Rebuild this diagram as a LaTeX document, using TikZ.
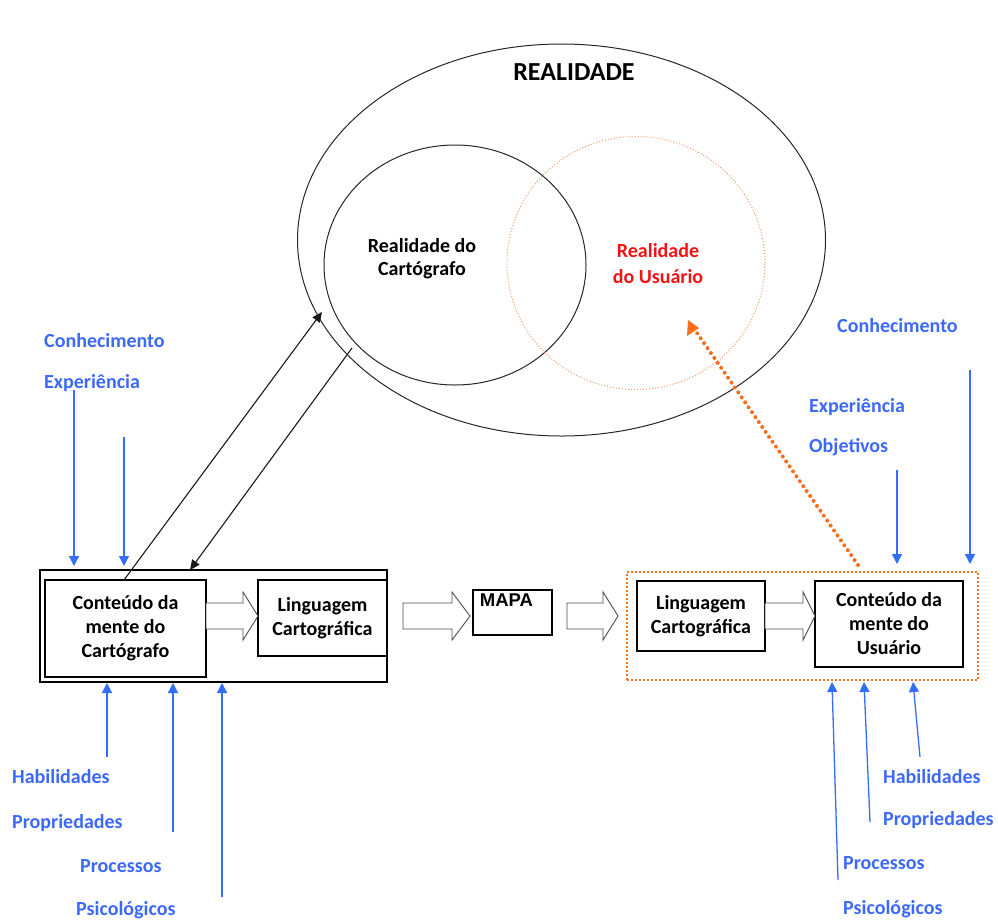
\documentclass[tikz,border=0pt]{standalone}
\usepackage{fontspec}
\setmainfont{Carlito}
\newfontfamily\arialfont{Liberation Sans}
\usetikzlibrary{shapes.geometric,arrows.meta,calc}
\definecolor{lblblue}{RGB}{60,105,250}
\definecolor{arrblue}{RGB}{50,110,250}
\definecolor{dotorange}{RGB}{250,110,30}
\definecolor{lightorange}{RGB}{250,150,100}
\definecolor{usered}{RGB}{240,20,20}
\tikzset{
  txt/.style={font=\bfseries\fontsize{20}{24}\selectfont, inner sep=0pt, align=center},
  lbl/.style={txt, text=lblblue, anchor=base west},
  box/.style={draw, line width=1.2pt, txt, minimum width=#1},
  harrow/.style={draw=black!70, line width=0.9pt, fill=white},
  inarrow/.style={draw=arrblue, line width=1.3pt, -{Triangle[width=10pt,length=10pt]}},
  blkarrow/.style={draw=black!90, line width=1.1pt, -{Triangle[width=9pt,length=10pt]}},
}
% hollow block arrow between two x positions (shaft 603..629, head 592..640)
\newcommand\hollowarrow[3]{%
  \draw[harrow] (#1,603) -- (#3,603) -- (#3,592) -- (#2,616) -- (#3,640)
    -- (#3,629) -- (#1,629) -- cycle;}
\begin{document}
\begin{tikzpicture}[x=1pt,y=-1pt]
\useasboundingbox (0,0) rectangle (998,919);

% the three realities
\node[draw=black!85, line width=1pt, ellipse, inner sep=0pt,
      minimum width=528pt, minimum height=392pt] (real) at (561.5,240) {};
\node[txt, font=\bfseries\fontsize{26}{30}\selectfont] (realtitle) at (574,72) {REALIDADE};
\node[draw=black!85, line width=1pt, ellipse, inner sep=0pt,
      minimum width=262pt, minimum height=240pt] (rcart) at (455,265) {};
\node[draw=lightorange, line width=1pt, dotted, ellipse, inner sep=0pt,
      minimum width=258pt, minimum height=253pt] (rusu) at (636,263) {};
\node[txt] (rcarttxt) at (422,259) {Realidade do\\[-1pt]Cartógrafo};
\node[txt, text=usered] (rusutxt) at (658,264) {Realidade\\[2pt]do Usuário};

% cartographer side
\node[draw, line width=1.2pt, minimum width=347pt, minimum height=112pt, inner sep=0pt] (outerL) at (213.5,626) {};
\node[box=161pt, minimum height=97pt] (cL) at (125.5,628.5) {Conteúdo da\\mente do\\Cartógrafo};
\node[box=129pt, minimum height=76pt] (lingL) at (322.5,618) {Linguagem\\Cartográfica};
\hollowarrow{206}{258}{243}

% the map
\hollowarrow{403}{470}{452}
\node[draw, line width=1.2pt, minimum width=79pt, minimum height=45pt, inner sep=0pt,
      font=\arialfont\bfseries\fontsize{18.5}{22}\selectfont,
      text height=8pt, text depth=20pt] (mapa) at (512.5,612.5) {MAPA\kern12pt};
\hollowarrow{567}{618}{603}

% user side
\node[draw=dotorange, line width=2pt, dash pattern=on 2pt off 2pt,
      minimum width=351pt, minimum height=108pt, inner sep=0pt] (outerR) at (802.5,626) {};
\node[box=128pt, minimum height=70pt] (lingR) at (701,616) {Linguagem\\Cartográfica};
\node[box=148pt, minimum height=86pt] (cR) at (889,624) {Conteúdo da\\mente do\\Usuário};
\hollowarrow{765}{815}{803}

% cartographer <-> reality
\coordinate (cartIn) at (322,312);
\coordinate (cartOut) at (352,348);
\draw[blkarrow] (124,580) -- (cartIn);
\draw[blkarrow] (cartOut) -- (190,570);

% user -> reality of the user
\coordinate (usuIn) at (688,320);
\draw[dotorange, line width=4pt, line cap=round, dash pattern=on 0pt off 6pt]
  (858,565) -- ($(usuIn)!14pt!(858,565)$);
\fill[dotorange] (usuIn) -- ++(-1,16) -- ++(12,-8) -- cycle;

% labels, cartographer side
\node[lbl] (lconh) at (44,347) {Conhecimento};
\node[lbl] (lexp) at (44,388) {Experiência};
\node[lbl] (lhab) at (12,783) {Habilidades};
\node[lbl] (lprop) at (12,828) {Propriedades};
\node[lbl] (lproc) at (80,872) {Processos};
\node[lbl] (lpsi) at (76,915) {Psicológicos};

% labels, user side
\node[lbl] (rconh) at (837,332) {Conhecimento};
\node[lbl] (rexp) at (809,412) {Experiência};
\node[lbl] (robj) at (809,452) {Objetivos};
\node[lbl] (rhab) at (883,783) {Habilidades};
\node[lbl] (rprop) at (883,825) {Propriedades};
\node[lbl] (rproc) at (843,869) {Processos};
\node[lbl] (rpsi) at (843,914) {Psicológicos};

% influences, cartographer side
\coordinate (a1) at (74,390);
\coordinate (a2) at (124,437);
\coordinate (b1) at (107,757);
\coordinate (b2) at (173,832);
\coordinate (b3) at (222,897);
\draw[inarrow] (a1) -- (a1 |- 0,566);
\draw[inarrow] (a2) -- (a2 |- 0,566);
\draw[inarrow] (b1) -- (b1 |- 0,683);
\draw[inarrow] (b2) -- (b2 |- 0,683);
\draw[inarrow] (b3) -- (b3 |- 0,683);

% influences, user side
\coordinate (c1) at (897,470);
\coordinate (c2) at (970,370);
\coordinate (d1) at (838,880);
\coordinate (d2) at (870,822);
\coordinate (d3) at (920,757);
\draw[inarrow] (c1) -- (c1 |- 0,564);
\draw[inarrow] (c2) -- (c2 |- 0,564);
\draw[inarrow] (d1) -- (832,682);
\draw[inarrow] (d2) -- (864,682);
\draw[inarrow] (d3) -- (913,682);
\end{tikzpicture}
\end{document}
